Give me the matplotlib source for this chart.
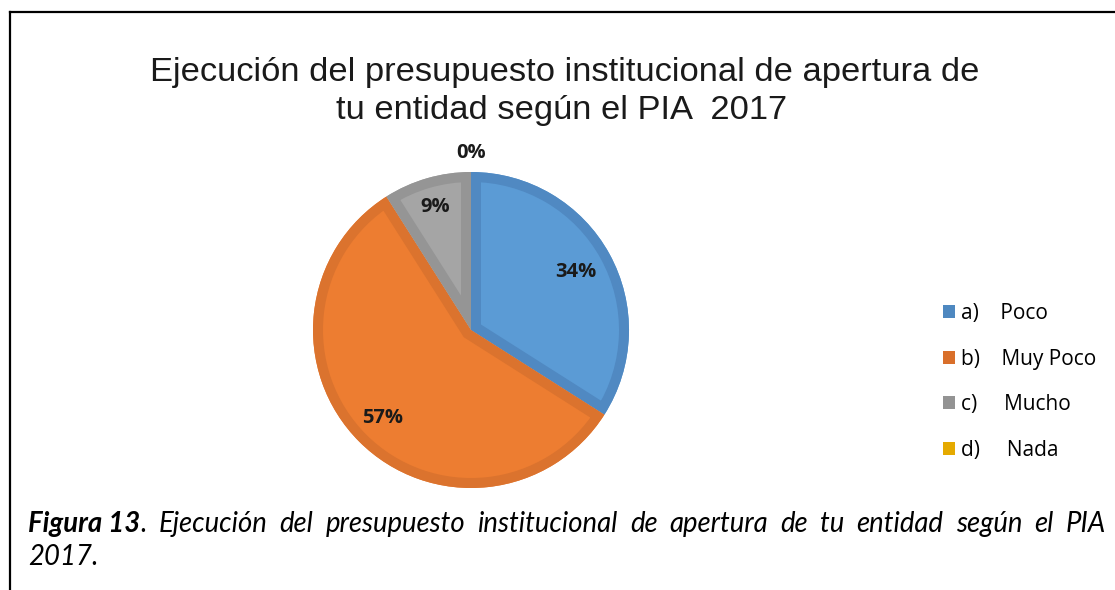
import matplotlib
matplotlib.use("Agg")
import matplotlib.pyplot as plt
import numpy as np
from matplotlib.patches import Patch, Wedge
from matplotlib.lines import Line2D

categories = ["a)    Poco", "b)    Muy Poco", "c)     Mucho", "d)     Nada"]
values = [34, 57, 9, 0]
title_lines = ["Ejecución del presupuesto institucional de apertura de",
               "tu entidad según el PIA  2017"]
caption_bold = "Figura 13"
caption_rest = ". Ejecución del presupuesto institucional de apertura de tu entidad según el PIA"
caption_line2 = "2017."

fill_colors = ["#5B9BD5", "#ED7D31", "#A5A5A5", "#FFC000"]
rim_colors = ["#5089C2", "#DB732E", "#959595", "#E5AA00"]
legend_colors = ["#4E88C0", "#D96F2A", "#939393", "#E5AA00"]

W, H = 1115, 590
fig = plt.figure(figsize=(W / 100, H / 100), dpi=100)

def fx(x):
    return x / W

def fy(y):
    return 1 - y / H

# frame lines
fig.add_artist(Line2D([fx(10), fx(10)], [fy(12), fy(595)], color="black", lw=1.6))
fig.add_artist(Line2D([fx(10), fx(1120)], [fy(12), fy(12)], color="black", lw=1.6))

# title
fig.text(fx(565), fy(81), title_lines[0], ha="center", va="baseline",
         fontsize=24.8, family="Liberation Sans", color="#1a1a1a")
fig.text(fx(562), fy(119), title_lines[1], ha="center", va="baseline",
         fontsize=24.8, family="Liberation Sans", color="#1a1a1a")

# pie
cx, cy, half = 471, 330, 160
ax = fig.add_axes([fx(cx - half), fy(cy + half), 2 * half / W, 2 * half / H])
R = 158 / half
wedges, _ = ax.pie(values, colors=fill_colors, startangle=90, counterclock=False,
                   radius=R, wedgeprops=dict(linewidth=0))
rim_px = 10
for w, rc in zip(wedges, rim_colors):
    if abs(w.theta2 - w.theta1) < 1e-9:
        continue
    rim = Wedge(w.center, w.r, w.theta1, w.theta2, facecolor="none", edgecolor=rc,
                linewidth=2 * rim_px * 72 / 100, joinstyle="miter")
    ax.add_patch(rim)
    rim.set_clip_on(True)
    rim.set_clip_path(w)
ax.set_xlim(-1, 1)
ax.set_ylim(-1, 1)
ax.set_aspect("equal")
ax.axis("off")

label_dist = [0.76, 0.79, 0.81, 1.12]
for w, v, d in zip(wedges, values, label_dist):
    ang = np.deg2rad((w.theta1 + w.theta2) / 2)
    ax.text(d * R * np.cos(ang), d * R * np.sin(ang), f"{v}%", ha="center", va="center",
            fontsize=14.5, fontweight="bold", family="Open Sans", color="#1a1a1a")

# legend
handles = [Patch(facecolor=c, edgecolor="none") for c in legend_colors]
fig.legend(handles, categories, loc="upper left", bbox_to_anchor=(fx(943), fy(303)),
           frameon=False, prop={"family": "Open Sans", "size": 15},
           handlelength=0.58, handleheight=0.58, handletextpad=0.3,
           labelspacing=1.18, borderpad=0, borderaxespad=0)

# caption, justified across the line
fig.canvas.draw()
renderer = fig.canvas.get_renderer()
cap_family = "Lato"
left, right, base1 = 28, 1106, 532
pieces = [[(caption_bold, "bold"), (caption_rest.split(" ")[0], "normal")]]
for w in caption_rest.split(" ")[1:]:
    pieces.append([(w, "normal")])

def measure(txt, wt, size):
    t = fig.text(0, 0, txt, fontsize=size, fontstyle="italic", fontweight=wt,
                 family=cap_family)
    bb = t.get_window_extent(renderer=renderer)
    t.remove()
    return bb.width

cap_size = 19.8
widths = [sum(measure(t, wt, cap_size) for t, wt in p) for p in pieces]
n = len(pieces) - 1
gap = (right - left - sum(widths)) / n
x = left
for p, wsum in zip(pieces, widths):
    xx = x
    for t, wt in p:
        fig.text(fx(xx), fy(base1), t, fontsize=cap_size, fontstyle="italic", fontweight=wt,
                 family=cap_family, va="baseline", ha="left", color="black")
        xx += measure(t, wt, cap_size)
    x += wsum + gap
fig.text(fx(left), fy(565), caption_line2, fontsize=cap_size, fontstyle="italic",
         family=cap_family, va="baseline", ha="left", color="black")

fig.savefig("out.png", dpi=100)
